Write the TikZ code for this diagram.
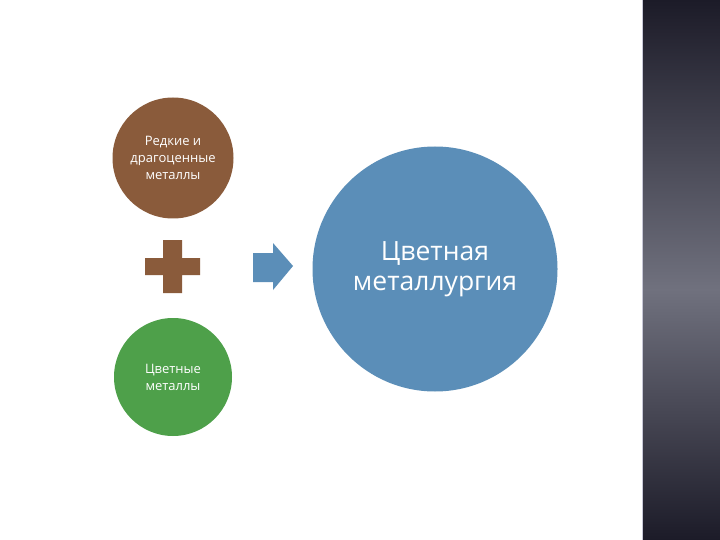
\documentclass[tikz,border=0pt]{standalone}
\usepackage{fontspec}
\setmainfont{Open Sans}
\definecolor{brownc}{RGB}{138,91,59}
\definecolor{greenc}{RGB}{78,160,74}
\definecolor{bluec}{RGB}{91,142,184}
\definecolor{stripdark}{RGB}{28,27,40}
\definecolor{stripmid}{RGB}{112,113,126}
\definecolor{stripline}{RGB}{200,200,215}
\tikzset{
  bubble/.style={circle, inner sep=0pt, text=white, align=center},
  small/.style={font=\fontsize{13}{17}\selectfont},
  big/.style={font=\fontsize{26.5}{30}\selectfont},
}
\begin{document}
\begin{tikzpicture}[x=1pt,y=-1pt]
\useasboundingbox (0,0) rectangle (720,540);
\fill[white] (0,0) rectangle (720,540);
\shade[top color=stripdark,bottom color=stripmid] (642,0) rectangle (720,290);
\shade[top color=stripmid,bottom color=stripdark] (642,289.5) rectangle (720,540);
\draw[stripline, line width=1pt] (642.5,0) -- (642.5,540);

\node[bubble, small, fill=brownc, minimum size=121pt] (rare) at (173,158) {Редкие и\\драгоценные\\металлы};
\node[bubble, small, fill=greenc, minimum size=118pt] (nonf) at (173,377) {Цветные\\металлы};
\node[bubble, big, fill=bluec, minimum size=245pt] (metal) at (435,269) {Цветная\\металлургия};

\coordinate (plus) at (173,266);
\fill[brownc] (163,240) -- (182,240) -- (182,258) -- (200,258) -- (200,275) -- (182,275)
  -- (182,293) -- (163,293) -- (163,275) -- (145,275) -- (145,258) -- (163,258) -- cycle;

\coordinate (arrow) at (273,266);
\fill[bluec] (253,253) -- (273,253) -- (273,243) -- (293,266) -- (273,290) -- (273,282)
  -- (253,282) -- cycle;
\end{tikzpicture}
\end{document}
